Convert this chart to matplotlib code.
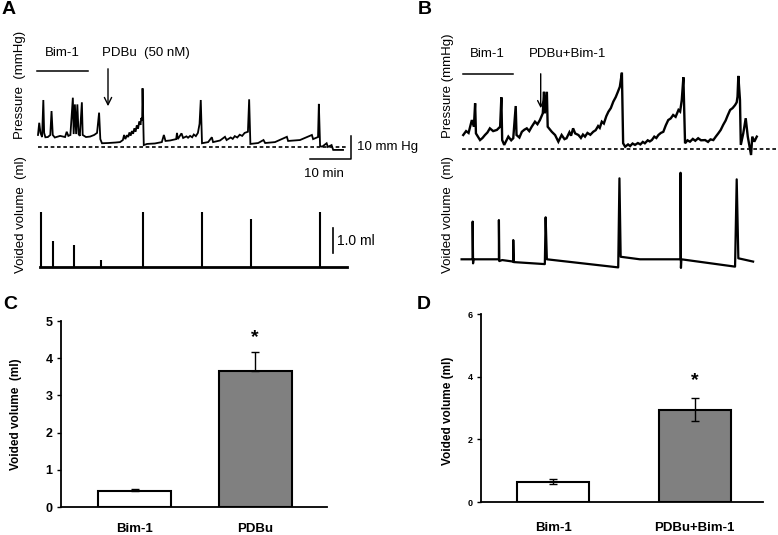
import matplotlib
matplotlib.use("Agg")
import matplotlib.pyplot as plt
import numpy as np

plt.rcParams['font.family'] = ['Liberation Sans', 'DejaVu Sans']

W, H = 778, 535
DPI = 100

# ---------------- data ----------------
# Panel A: bladder pressure trace (time in min, pressure in mmHg)
a_time = [0, 0.3, 0.6, 1.0, 1.3, 1.5, 1.8, 2.4, 3.0, 3.3, 3.6, 4.1, 5.4, 6.6, 7.0, 7.4, 7.9,
          8.5, 8.7, 9.0, 9.3, 9.6, 9.9, 10.2, 10.7, 10.9, 11.7, 12.7, 13.7, 14.4, 14.9, 15.2,
          15.6, 17.1, 18.8, 20.0, 20.7, 21.0, 21.3, 21.7, 22.0, 22.3, 22.6, 22.9, 23.2, 23.5,
          23.8, 24.1, 24.4, 24.7, 25.0, 25.2, 25.4,
          25.5, 25.8, 26.6, 28.5, 30.2, 30.7, 31.1, 32.2, 33.7, 33.9, 34.1, 35.0, 35.4,
          36.2, 36.6, 37.1, 37.6, 38.0, 38.5, 39.0, 39.4, 39.7, 40.0, 41.5, 42.4, 42.7, 44.4,
          45.6, 46.0, 47.0, 47.5, 48.0, 48.6, 49.2, 49.8, 50.4, 51.2,
          51.5, 51.8, 53.7, 55.0, 55.4, 57.8, 60.7, 61.0, 63.9, 66.8, 67.1, 68.3, 68.5, 68.8,
          69.3, 70.4, 70.7, 71.6, 72.0, 73.7, 74.4]
a_press = [5.1, 10.4, 6.0, 4.2, 20.3, 6.0, 4.1, 4.2, 5.1, 15.5, 5.1, 4.0, 4.7, 4.2, 6.5, 4.7, 5.1,
           21.3, 5.5, 18.4, 5.5, 18.4, 5.5, 4.7, 19.3, 5.1, 4.2, 4.4, 5.1, 6.0, 14.8, 3.3,
           1.5, 1.6, 1.8, 2.0, 2.9, 5.1, 3.3, 5.0, 4.2, 6.2, 4.8, 6.8, 5.6, 8.0,
           6.5, 9.3, 7.8, 11.0, 9.5, 12.5, 11.5,
           25.4, 0.7, 1.2, 1.4, 2.0, 5.1, 2.5, 2.7, 3.3, 6.0, 3.3, 5.8, 3.8,
           4.5, 3.9, 4.7, 4.1, 5.3, 4.6, 6.0, 9.9, 20.3, 1.5, 2.0, 4.1, 2.0, 2.7,
           4.3, 2.9, 4.0, 3.4, 4.6, 4.0, 5.2, 4.7, 6.0, 6.5,
           20.6, 1.2, 1.6, 2.9, 1.6, 2.0, 4.3, 2.5, 2.9, 5.1, 3.3, 4.2, 18.6, 0.3,
           0.0, 1.5, -0.1, 0.7, -1.4, -1.4, -1.4]

# Panel A: voided volume events (min, ml)
a_void_time = [0.66, 3.7, 8.8, 15.3, 25.5, 39.9, 51.9, 68.8]
a_void_vol = [2.2, 1.04, 0.88, 0.29, 2.2, 2.2, 1.9, 2.2]
a_vol_start, a_vol_end = 0.5, 75.3

# Panel B: bladder pressure trace (min, mmHg)
b_time = [0.3, 1.0, 1.6, 2.4, 2.9, 3.2, 3.4, 4.4, 5.0, 5.6, 6.2, 6.8, 7.6, 8.5, 9.3, 9.6, 9.8,
          10.3, 11.3, 12.0, 12.5, 13.1, 13.3, 14.0, 14.6, 15.2, 15.8, 16.4, 17.0, 17.8, 18.4,
          19.0, 19.7, 20.0, 20.2, 20.7, 20.9, 21.4, 21.9, 22.7, 23.5,
          24.3, 25.0, 25.5, 26.2, 26.6, 27.1, 27.6, 28.4, 29.0, 29.5, 30.0, 30.6, 31.3, 32.0,
          32.6, 33.2, 33.6, 34.1, 34.6, 35.2, 35.7, 36.3, 36.9, 37.5, 38.0, 38.5, 39.0,
          39.3, 39.8, 40.5, 41.0, 41.6, 42.2, 42.9, 43.5, 44.1, 44.6, 45.3, 45.8, 46.3, 46.9,
          47.4, 47.9, 48.5, 49.1, 49.7, 50.3, 50.9, 51.5, 52.1, 52.8, 53.2, 53.6, 54.0,
          54.4, 55.0, 55.6, 56.3, 56.9, 57.6, 58.3, 59.3, 60.0, 60.6, 61.3, 61.9, 62.5, 63.1,
          63.7, 64.3, 64.8, 65.4, 66.0, 66.6, 67.0, 67.2, 67.4,
          67.8, 68.0, 68.6, 69.2, 69.7, 70.5, 70.8, 71.3, 71.9]
b_press = [6.3, 8.0, 7.2, 12.8, 9.9, 20.1, 7.0, 4.1, 5.0, 6.3, 7.4, 9.2, 8.0, 8.5, 9.9, 22.7, 4.1,
           2.0, 5.6, 4.0, 4.9, 18.9, 6.3, 5.2, 7.7, 8.6, 9.2, 8.0, 9.9, 12.1, 11.0,
           12.8, 15.7, 25.1, 15.7, 25.1, 9.9, 8.8, 7.7, 6.3, 3.4,
           6.3, 4.5, 4.9, 7.5, 6.0, 9.2, 7.0, 6.3, 5.0, 6.5, 5.6, 7.2, 6.4, 7.7,
           8.4, 10.2, 9.4, 12.1, 11.3, 14.5, 16.4, 18.0, 20.8, 22.8, 25.0, 27.3, 33.4,
           2.7, 1.2, 2.2, 1.5, 2.6, 2.0, 2.8, 2.2, 3.3, 2.7, 4.0, 3.5, 4.1, 5.6,
           5.0, 6.3, 7.2, 7.7, 10.5, 12.8, 13.5, 15.0, 14.2, 17.2, 16.5, 21.5, 31.4,
           2.7, 4.0, 3.4, 4.6, 3.8, 4.9, 4.0, 4.1, 3.3, 4.4, 4.1, 5.6, 7.0, 8.5,
           10.7, 12.6, 14.8, 17.2, 18.0, 19.3, 20.5, 23.0, 32.0,
           21.5, 2.0, 7.0, 13.6, 5.6, -2.4, 5.6, 3.4, 5.6]

# Panel B: voided volume trace (min, ml)
b_vtime = [-0.1, 2.6, 2.6, 2.7, 2.8, 9.0, 9.0, 9.1, 9.8, 12.5, 12.5, 12.6, 20.2, 20.4, 20.7,
           38.1, 38.4, 38.7, 43.4, 53.3, 53.3, 53.4, 53.5, 66.6, 67.0, 67.4, 71.0]
b_vol = [0, 0, 1.49, -0.16, 0, 0, 1.55, -0.07, -0.03, -0.09, 0.76, -0.11, -0.19, 1.66, 0,
         -0.32, 3.2, 0.10, 0, 0, 3.42, -0.34, 0, -0.29, 3.16, 0.04, -0.09]

# Panel C
c_groups = ['Bim-1', 'PDBu']
c_means = [0.44, 3.65]
c_err = [0.04, 0.52]
c_star = 4.55

# Panel D
d_groups = ['Bim-1', 'PDBu+Bim-1']
d_means = [0.65, 2.95]
d_err = [0.08, 0.36]
d_star = 3.88

# ---------------- layout helpers ----------------
fig = plt.figure(figsize=(W / DPI, H / DPI), dpi=DPI)


def px_axes(x0, y0, x1, y1):
    return fig.add_axes([x0 / W, 1 - y1 / H, (x1 - x0) / W, (y1 - y0) / H])


def ftext(x, y, s, **kw):
    return fig.text(x / W, 1 - y / H, s, **kw)


def map_axes(ax, box, x_origin_px, px_per_x, y_origin_px, px_per_y):
    x0, y0, x1, y1 = box
    ax.set_xlim((x0 - x_origin_px) / px_per_x, (x1 - x_origin_px) / px_per_x)
    ax.set_ylim((y_origin_px - y1) / px_per_y, (y_origin_px - y0) / px_per_y)
    ax.axis('off')


TPX = 4.1      # px per minute
PPX = 2.3      # px per mmHg
VPX = 25.3     # px per ml

# ---------------- Panel A ----------------
boxA = (30, 40, 420, 175)
axA = px_axes(*boxA)
map_axes(axA, boxA, 38, TPX, 146.7, PPX)
axA.plot(a_time, a_press, color='black', lw=1.3, solid_joinstyle='miter')
axA.plot([0, 75.3], [0, 0], color='black', lw=1.2, ls=(0, (2.2, 1.6)))
# scale bars 10 min / 10 mmHg
axA.plot([66.3, 76.3, 76.3], [-5.3, -5.3, 4.7], color='black', lw=1.1, clip_on=False)

boxAv = (30, 180, 420, 290)
axAv = px_axes(*boxAv)
map_axes(axAv, boxAv, 38, TPX, 267.3, VPX)
axAv.vlines(a_void_time, 0, a_void_vol, color='black', lw=1.5)
axAv.plot([a_vol_start, a_vol_end], [0, 0], color='black', lw=2.0)
axAv.plot([71.95, 71.95], [0.55, 1.55], color='black', lw=1.2)

ftext(2, 1, 'A', fontsize=14, fontweight='bold', ha='left', va='top')
ftext(20, 85, 'Pressure  (mmHg)', fontsize=9.5, rotation=90, ha='center', va='center')
ftext(21, 215, 'Voided volume  (ml)', fontsize=9.5, rotation=90, ha='center', va='center')
ftext(62, 53, 'Bim-1', fontsize=9.5, ha='center', va='center')
fig.add_artist(plt.Line2D([36.7 / W, 88.3 / W], [1 - 71 / H, 1 - 71 / H], color='black', lw=1.1))
ftext(102, 53, 'PDBu  (50 nM)', fontsize=9.5, ha='left', va='center')
fig.add_artist(matplotlib.patches.FancyArrowPatch((108 / W, 1 - 66 / H), (108 / W, 1 - 109 / H),
                                                  arrowstyle='->', mutation_scale=13, lw=1.0,
                                                  color='black', transform=fig.transFigure))
ftext(357, 147, '10 mm Hg', fontsize=9.5, ha='left', va='center')
ftext(324, 174, '10 min', fontsize=9.5, ha='center', va='center')
ftext(337, 241, '1.0 ml', fontsize=10, ha='left', va='center')

# ---------------- Panel B ----------------
boxB = (455, 40, 778, 175)
axB = px_axes(*boxB)
map_axes(axB, boxB, 462, TPX, 149.5, PPX)
axB.plot(b_time, b_press, color='black', lw=1.7, solid_joinstyle='miter')
axB.plot([-0.1, 76.6], [0, 0], color='black', lw=1.2, ls=(0, (2.2, 1.6)))

boxBv = (455, 160, 778, 290)
axBv = px_axes(*boxBv)
map_axes(axBv, boxBv, 462, TPX, 259.3, VPX)
axBv.plot(b_vtime, b_vol, color='black', lw=1.6)

ftext(418, 1, 'B', fontsize=14, fontweight='bold', ha='left', va='top')
ftext(448, 86, 'Pressure (mmHg)', fontsize=9.5, rotation=90, ha='center', va='center')
ftext(448.5, 215, 'Voided volume  (ml)', fontsize=9.5, rotation=90, ha='center', va='center')
ftext(487, 54, 'Bim-1', fontsize=9.5, ha='center', va='center')
fig.add_artist(plt.Line2D([462.7 / W, 513.3 / W], [1 - 74 / H, 1 - 74 / H], color='black', lw=1.1))
ftext(568, 54, 'PDBu+Bim-1', fontsize=9.5, ha='center', va='center')
fig.add_artist(matplotlib.patches.FancyArrowPatch((540.7 / W, 1 - 71 / H), (540.7 / W, 1 - 111 / H),
                                                  arrowstyle='->', mutation_scale=11, lw=1.0,
                                                  color='black', transform=fig.transFigure))


# ---------------- bar panels ----------------
def bar_panel(box, groups, means, errs, star, ymax, yticks, centers_px, width_px,
              tick_fs, xlab_pad, both_err):
    x0, y0, x1, y1 = box
    ax = px_axes(*box)
    unit = centers_px[1] - centers_px[0]
    ax.set_xlim(-(centers_px[0] - x0) / unit, 1 + (x1 - centers_px[1]) / unit)
    ax.set_ylim(0, ymax)
    xs = np.arange(len(groups))
    ax.bar(xs, means, width=width_px / unit, color=['white', '#808080'],
           edgecolor='black', linewidth=1.5, zorder=2)
    if both_err:
        ax.errorbar(xs, means, yerr=errs, fmt='none', ecolor='black', elinewidth=1.0,
                    capsize=3, capthick=1.0, zorder=3)
    else:
        ax.errorbar(xs, means, yerr=[[0] * len(errs), errs], fmt='none', ecolor='black',
                    elinewidth=1.0, capsize=3, capthick=1.0, zorder=3)
    ax.text(1, star, '*', fontsize=14, fontweight='bold', ha='center', va='center')
    for s in ['top', 'right']:
        ax.spines[s].set_visible(False)
    for s in ['left', 'bottom']:
        ax.spines[s].set_linewidth(1.3)
    ax.set_yticks(yticks)
    ax.set_yticklabels([str(t) for t in yticks], fontweight='bold', fontsize=tick_fs)
    ax.tick_params(axis='y', length=3, width=1.0, pad=3)
    ax.set_xticks(xs)
    ax.set_xticklabels(groups, fontweight='bold', fontsize=9.5)
    ax.tick_params(axis='x', length=0, pad=xlab_pad)
    return ax


boxC = (61, 321, 327, 507)
bar_panel(boxC, c_groups, c_means, c_err, c_star, 5, [0, 1, 2, 3, 4, 5], (134.5, 255), 73,
          9, 11.5, False)
ftext(3, 296, 'C', fontsize=14, fontweight='bold', ha='left', va='top')
ftext(16, 414, 'Voided volume  (ml)', fontsize=8.5, fontweight='bold', rotation=90,
      ha='center', va='center')

boxD = (481, 314, 763, 502)
bar_panel(boxD, d_groups, d_means, d_err, d_star, 6, [0, 2, 4, 6], (553, 694.5), 72,
          6.5, 14.5, True)
ftext(417, 296, 'D', fontsize=14, fontweight='bold', ha='left', va='top')
ftext(448, 411, 'Voided volume (ml)', fontsize=8.5, fontweight='bold', rotation=90,
      ha='center', va='center')

fig.savefig('out.png', dpi=DPI)
